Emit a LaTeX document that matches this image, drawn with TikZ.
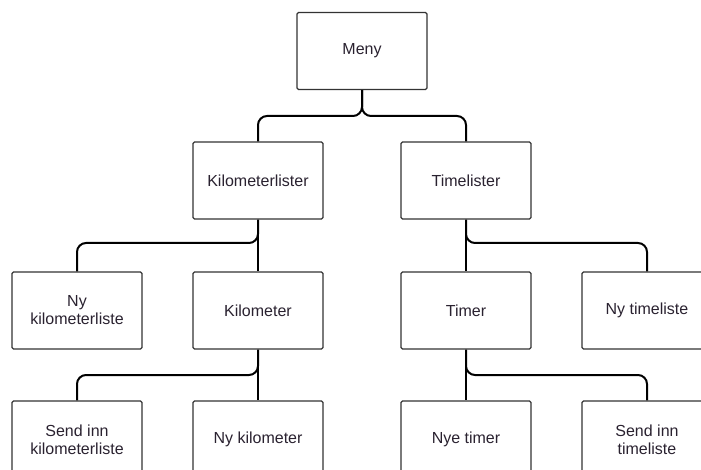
\documentclass[tikz,border=0pt]{standalone}
\usepackage{fontspec}
\setmainfont{Liberation Sans}
\definecolor{boxgray}{HTML}{333333}
\definecolor{txtdark}{HTML}{2A2230}

\begin{document}
\begin{tikzpicture}[x=1pt,y=-1pt,line width=1.2pt,
  font=\fontsize{16}{18}\selectfont,
  menubox/.style={draw=boxgray,fill=white,rounded corners=1.5pt,
    minimum width=130pt,minimum height=77pt,align=center,text=txtdark},
  link/.style={draw=black,line width=2pt,rounded corners=9pt}]
\clip (0,0) rectangle (701,470);
% boxes, one row per level (centres in px of the 701x470 frame)
\node[menubox] (meny)   at (362,51)    {Meny};
\node[menubox] (kml)    at (258,180.5) {Kilometerlister};
\node[menubox] (tl)     at (466,180.5) {Timelister};
\node[menubox] (nykl)   at (77,310.5)  {Ny\\kilometerliste};
\node[menubox] (km)     at (258,310.5) {Kilometer};
\node[menubox] (timer)  at (466,310.5) {Timer};
\node[menubox] (nytl)   at (647,310.5) {Ny timeliste};
\node[menubox] (sendkm) at (77,439.5)  {Send inn\\kilometerliste};
\node[menubox] (nykm)   at (258,439.5) {Ny kilometer};
\node[menubox] (nyet)   at (466,439.5) {Nye timer};
\node[menubox] (sendtl) at (647,439.5) {Send inn\\timeliste};
% junctions where a trunk splits
\coordinate (j0) at (362,116);
\coordinate (jk) at (258,243);
\coordinate (jt) at (466,243);
\coordinate (jkm) at (258,375);
\coordinate (jtm) at (466,375);
% Meny
\draw[link] (meny.south) -- (j0) -| (kml.north);
\draw[link] (meny.south) -- (j0) -| (tl.north);
% Kilometerlister
\draw[link] (kml.south) -- (jk) -| (nykl.north);
\draw[link] (kml.south) -- (km.north);
% Kilometer
\draw[link] (km.south) -- (jkm) -| (sendkm.north);
\draw[link] (km.south) -- (nykm.north);
% Timelister
\draw[link] (tl.south) -- (jt) -| (nytl.north);
\draw[link] (tl.south) -- (timer.north);
% Timer
\draw[link] (timer.south) -- (jtm) -| (sendtl.north);
\draw[link] (timer.south) -- (nyet.north);
\end{tikzpicture}
\end{document}
